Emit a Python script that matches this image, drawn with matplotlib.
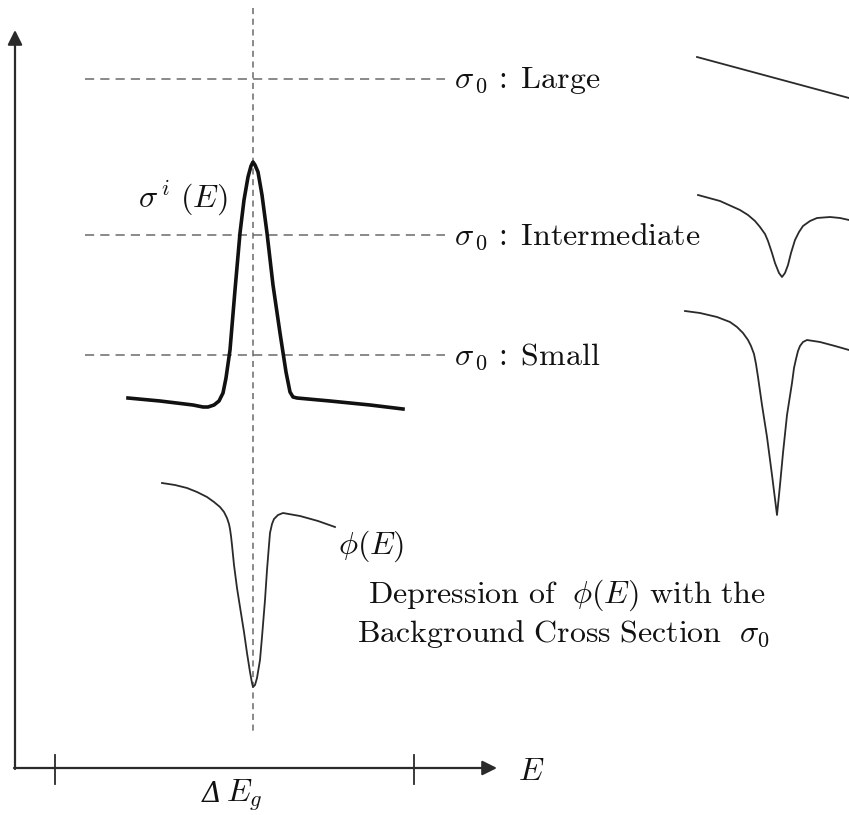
import numpy as np
import matplotlib.pyplot as plt

plt.rcParams['mathtext.fontset'] = 'cm'

# traced curves, (E, y) in figure pixels
sig_E = [128, 160, 193, 203, 208, 214, 219, 223, 226, 230, 235, 240, 244, 248, 251, 253,
         255, 258, 262, 267, 273, 280, 286, 290, 293, 297, 330, 370, 403]
sig_y = [398, 401, 405, 407, 407, 405, 401, 393, 378, 350, 290, 233, 200, 177, 166, 162,
         165, 172, 195, 233, 285, 333, 372, 392, 397, 398, 401, 405, 409]

phi_E = [162, 175, 187, 197, 207, 214, 220, 224, 227, 229, 230, 231, 232, 234, 237, 240,
         244, 247, 250, 252, 253, 255, 257, 260, 262, 265, 267, 269, 270, 272, 274, 278,
         283, 300, 318, 335]
phi_y = [483, 485, 488, 492, 497, 502, 507, 512, 518, 524, 529, 536, 545, 565, 588, 607,
         632, 653, 672, 683, 687, 685, 678, 660, 637, 600, 570, 545, 533, 524, 519, 515,
         513, 516, 521, 527]

large_E = [697, 849]
large_y = [57, 98]

mid_E = [698, 720, 740, 748, 755, 760, 765, 768, 772, 775, 779, 782, 785, 788, 791, 795,
         799, 803, 810, 817, 830, 840, 849]
mid_y = [195, 201, 210, 215, 221, 227, 234, 241, 253, 263, 273, 277, 273, 265, 253, 240,
         232, 226, 221, 218, 217, 218, 220]

small_E = [685, 700, 717, 730, 737, 743, 748, 751, 754, 756, 758, 762, 767, 772, 777,
           780, 783, 787, 792, 794, 796, 798, 800, 803, 807, 820, 835, 849]
small_y = [311, 313, 317, 322, 327, 333, 340, 346, 354, 364, 377, 405, 437, 475, 515,
           485, 453, 415, 383, 368, 359, 351, 346, 342, 340, 342, 346, 350]

# reference levels of sigma_0 and their labels
levels_y = [79, 235, 355]
levels_lab = ['Large', 'Intermediate', 'Small']

E0 = 253
group_E = [55, 414]
axis_x0, axis_y0 = 15, 768
axis_xmax, axis_ymax = 497, 30

fig = plt.figure(figsize=(8.49, 8.15), dpi=100)
ax = fig.add_axes([0, 0, 1, 1])
ax.set_xlim(0, 849)
ax.set_ylim(815, 0)
ax.axis('off')

ink = '#2a2a2a'
dash = '#6a6a6a'
txt = '#111111'
fs = 23

# axes with arrows
ax.annotate('', xy=(axis_xmax, axis_y0), xytext=(axis_x0 - 1, axis_y0),
            arrowprops=dict(arrowstyle='-|>', lw=1.6, color=ink, mutation_scale=22,
                            shrinkA=0, shrinkB=0))
ax.annotate('', xy=(axis_x0, axis_ymax), xytext=(axis_x0, axis_y0 + 1),
            arrowprops=dict(arrowstyle='-|>', lw=1.6, color=ink, mutation_scale=22,
                            shrinkA=0, shrinkB=0))
for g in group_E:
    ax.plot([g, g], [755, 784], color=ink, lw=1.3)

ax.text(518, 772, r'$E$', fontsize=fs, ha='left', va='center', color=txt)
ax.text(212, 795, 'Δ', fontsize=fs - 3, family='DejaVu Serif', style='italic',
        ha='center', va='center', color=txt)
ax.text(226, 795, r'$E_g$', fontsize=fs, ha='left', va='center', color=txt)

# dashed guides
ax.plot([E0, E0], [8, 733], ls=(0, (4, 3)), color=dash, lw=1.1)
for yl, lab in zip(levels_y, levels_lab):
    ax.plot([85, 445], [yl, yl], ls=(0, (6, 4)), color=dash, lw=1.1)
    ax.text(454, yl + 1, r'$\sigma_{\,0}\ \colon\ \,\mathrm{%s}$' % lab, fontsize=fs,
            ha='left', va='center', color=txt)

# resonance cross section and flux
ax.plot(sig_E, sig_y, color='#111', lw=2.6, solid_joinstyle='round')
ax.plot(phi_E, phi_y, color=ink, lw=1.3)
ax.text(138, 198, r'$\sigma^{\,i}\ (E)$', fontsize=fs, ha='left', va='center', color=txt)
ax.text(338, 546, r'$\phi(E)$', fontsize=fs, ha='left', va='center', color=txt)

# flux shapes for each sigma_0
for xs, ys in [(large_E, large_y), (mid_E, mid_y), (small_E, small_y)]:
    ax.plot(xs, ys, color=ink, lw=1.3)

ax.text(567, 595, r'$\mathrm{Depression\ of}\ \ \phi(E)\ \mathrm{with\ the}$',
        fontsize=fs, ha='center', va='center', color=txt)
ax.text(563, 634, r'$\mathrm{Background\ Cross\ Section}\ \ \sigma_0$',
        fontsize=fs, ha='center', va='center', color=txt)

fig.savefig('out.png', dpi=100, facecolor='white')
